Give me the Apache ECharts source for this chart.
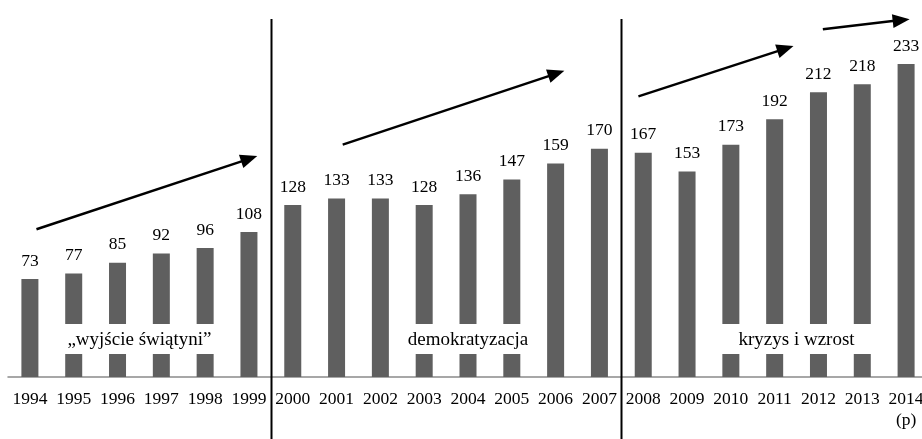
<!DOCTYPE html>
<html>
<head>
<meta charset="utf-8">
<script src="https://cdn.jsdelivr.net/npm/echarts@6/dist/echarts.min.js"></script>
<style>
  html, body { margin: 0; padding: 0; background: #fff; }
  #chart { width: 922px; height: 439px; }
</style>
</head>
<body>
<div id="chart"></div>
<script>
// Years on the category axis (last one is a forecast)
const years = ['1994', '1995', '1996', '1997', '1998', '1999', '2000', '2001', '2002', '2003',
  '2004', '2005', '2006', '2007', '2008', '2009', '2010', '2011', '2012', '2013', '2014\n(p)'];

// Yearly values shown on top of each bar
const values = [73, 77, 85, 92, 96, 108, 128, 133, 133, 128, 136, 147, 159, 170, 167, 153, 173, 192, 212, 218, 233];

// Period names
const periodNames = ['„wyjście świątyni”', 'demokratyzacja', 'kryzys i wzrost'];
// Category span of each period caption box (in category index units)
const periodSpans = [[0.5, 4.5], [8.5, 11.5], [15.5, 19.5]];
// Category boundaries that separate the periods
const periodBreaks = [5.5, 13.5];
// Trend arrows: [startIndex, startValue, endIndex, endValue]
const trendArrows = [
  [0.15, 110, 5.19, 164.5],
  [7.14, 173, 12.2, 228],
  [13.89, 209, 17.43, 246.5],
  [18.1, 259, 20.08, 266.5]
];

const FONT = "'Liberation Serif', 'Times New Roman', serif";
const chart = echarts.init(document.getElementById('chart'));

chart.setOption({
  animation: false,
  backgroundColor: '#fff',
  grid: { left: 8, width: 920, top: 1, bottom: 62, containLabel: false, outerBoundsMode: 'none' },
  xAxis: {
    type: 'category',
    data: years,
    axisTick: { show: false },
    axisLine: { lineStyle: { color: '#8a8a8a', width: 1.5 } },
    axisLabel: { color: '#000', fontFamily: FONT, fontSize: 17.5, lineHeight: 21, margin: 12, interval: 0 }
  },
  yAxis: { type: 'value', min: 0, max: 280, show: false, splitLine: { show: false } },
  series: [{
    type: 'bar',
    data: values,
    barWidth: 17,
    itemStyle: { color: '#5f5f5f' },
    label: { show: true, position: 'top', distance: 9, color: '#000', fontFamily: FONT, fontSize: 17.5 }
  }]
});

// Map fractional category index / value to pixels
const x0 = chart.convertToPixel({ xAxisIndex: 0 }, 0);
const x1 = chart.convertToPixel({ xAxisIndex: 0 }, 1);
const px = f => x0 + f * (x1 - x0);
const py = v => chart.convertToPixel({ yAxisIndex: 0 }, v);

const elements = [];

// White caption boxes laid over the bars, with the period names
periodSpans.forEach((span, i) => {
  const left = px(span[0]), right = px(span[1]);
  const top = py(39.5), bottom = py(17.2);
  elements.push({
    type: 'rect', z: 10,
    shape: { x: left, y: top, width: right - left, height: bottom - top },
    style: { fill: '#fff' }
  });
  elements.push({
    type: 'text', z: 11,
    x: (left + right) / 2, y: py(27.5),
    style: { text: periodNames[i], fill: '#000', font: '19px ' + FONT, align: 'center', verticalAlign: 'middle' }
  });
});

// Vertical separators between periods
periodBreaks.forEach(b => {
  const x = Math.round(px(b)) + 0.5;
  elements.push({
    type: 'line', z: 12,
    shape: { x1: x, y1: 19, x2: x, y2: 439 },
    style: { stroke: '#000', lineWidth: 2 }
  });
});

// Trend arrows
trendArrows.forEach(a => {
  const sx = px(a[0]), sy = py(a[1]), tx = px(a[2]), ty = py(a[3]);
  const dx = tx - sx, dy = ty - sy, len = Math.hypot(dx, dy);
  const ux = dx / len, uy = dy / len, nx = -uy, ny = ux;
  const L = 17, W = 7;
  const bx = tx - L * ux, by = ty - L * uy;
  elements.push({
    type: 'line', z: 12,
    shape: { x1: sx, y1: sy, x2: bx + ux * 2, y2: by + uy * 2 },
    style: { stroke: '#000', lineWidth: 2.5 }
  });
  elements.push({
    type: 'polygon', z: 12,
    shape: { points: [[tx, ty], [bx + W * nx, by + W * ny], [bx - W * nx, by - W * ny]] },
    style: { fill: '#000' }
  });
});

chart.setOption({ graphic: { elements } });
</script>
</body>
</html>
